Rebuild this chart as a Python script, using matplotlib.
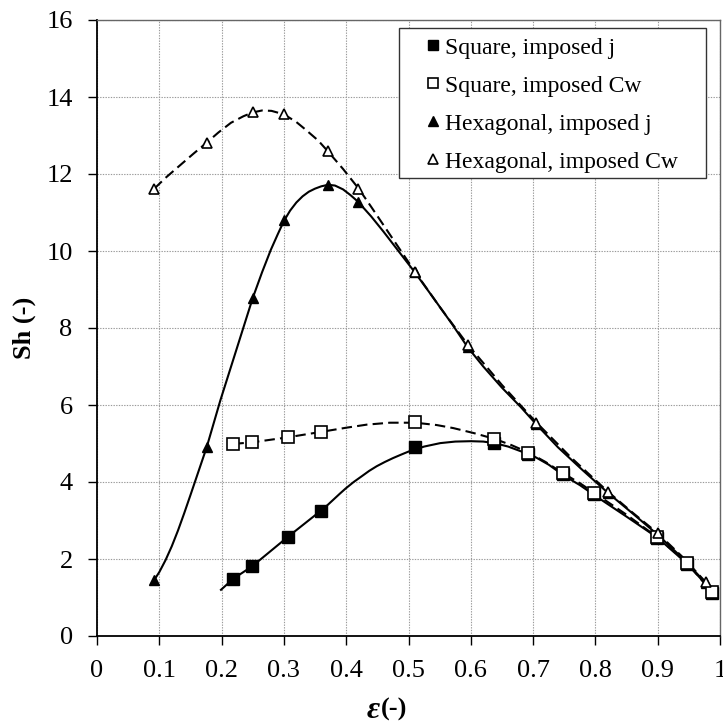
import matplotlib
matplotlib.use("Agg")
import matplotlib.pyplot as plt
from matplotlib.lines import Line2D
from matplotlib.patches import Rectangle

plt.rcParams.update({"font.family": "Liberation Serif", "font.size": 19})

# ---- measured points (markers) ----
hex_j_x = [0.092, 0.176, 0.250, 0.300, 0.371, 0.419, 0.51, 0.595, 0.705, 0.82, 0.90, 0.977]
hex_j_y = [1.46, 4.92, 8.78, 10.81, 11.72, 11.28, 9.45, 7.50, 5.50, 3.72, 2.65, 1.38]
hex_cw_x = [0.092, 0.176, 0.250, 0.300, 0.371, 0.419, 0.51, 0.595, 0.705, 0.82, 0.90, 0.977]
hex_cw_y = [11.62, 12.80, 13.60, 13.55, 12.60, 11.60, 9.45, 7.55, 5.53, 3.74, 2.67, 1.40]
sq_j_x = [0.219, 0.249, 0.306, 0.359, 0.511, 0.638, 0.692, 0.748, 0.798, 0.899, 0.947, 0.987]
sq_j_y = [1.49, 1.81, 2.57, 3.25, 4.92, 5.01, 4.72, 4.20, 3.70, 2.55, 1.88, 1.12]
sq_cw_x = [0.219, 0.249, 0.306, 0.359, 0.511, 0.638, 0.692, 0.748, 0.798, 0.899, 0.947, 0.987]
sq_cw_y = [4.99, 5.03, 5.16, 5.30, 5.56, 5.12, 4.75, 4.23, 3.72, 2.57, 1.90, 1.14]

# ---- trend curves ----
hex_j_cx = [0.092, 0.10, 0.11, 0.12, 0.13, 0.14, 0.15, 0.163, 0.176, 0.198, 0.225, 0.250,
            0.265, 0.279, 0.29, 0.30, 0.31, 0.32, 0.33, 0.34, 0.35, 0.36, 0.371, 0.382,
            0.395, 0.407, 0.419, 0.44, 0.46, 0.48, 0.51, 0.54, 0.57, 0.595, 0.62, 0.65,
            0.68, 0.705, 0.74, 0.78, 0.82, 0.86, 0.90, 0.94, 0.977]
hex_j_cy = [1.46, 1.66, 1.97, 2.33, 2.74, 3.19, 3.66, 4.28, 4.90, 6.12, 7.50, 8.78,
            9.45, 10.03, 10.43, 10.78, 11.05, 11.26, 11.42, 11.54, 11.62, 11.68, 11.72, 11.70,
            11.60, 11.45, 11.28, 10.90, 10.50, 10.08, 9.45, 8.78, 8.10, 7.50, 7.00, 6.45,
            5.95, 5.50, 4.90, 4.30, 3.72, 3.18, 2.63, 2.02, 1.38]
hex_cw_cx = [0.092, 0.11, 0.135, 0.155, 0.175, 0.195, 0.215, 0.235, 0.25, 0.265, 0.28, 0.30,
             0.32, 0.335, 0.355, 0.37, 0.395, 0.42, 0.44, 0.46, 0.485, 0.51, 0.55, 0.595,
             0.65, 0.705, 0.76, 0.82, 0.86, 0.90, 0.94, 0.977]
hex_cw_cy = [11.62, 11.90, 12.25, 12.53, 12.80, 13.08, 13.33, 13.50, 13.60, 13.65, 13.64, 13.55,
             13.35, 13.15, 12.87, 12.60, 12.13, 11.62, 11.15, 10.67, 10.07, 9.47, 8.55, 7.57,
             6.52, 5.55, 4.65, 3.75, 3.20, 2.67, 2.05, 1.40]
sq_j_cx = [0.199, 0.219, 0.249, 0.306, 0.359, 0.37, 0.38, 0.39, 0.399, 0.412, 0.425, 0.437,
           0.449, 0.462, 0.475, 0.488, 0.50, 0.525, 0.551, 0.575, 0.60, 0.62, 0.638, 0.66,
           0.68, 0.70, 0.725, 0.75, 0.775, 0.80, 0.85, 0.90, 0.947, 0.987]
sq_j_cy = [1.20, 1.49, 1.81, 2.57, 3.25, 3.40, 3.55, 3.70, 3.83, 4.00, 4.15, 4.29,
           4.41, 4.52, 4.62, 4.71, 4.79, 4.92, 5.01, 5.05, 5.06, 5.05, 5.01, 4.92,
           4.80, 4.68, 4.45, 4.16, 3.92, 3.64, 3.10, 2.55, 1.88, 1.17]
sq_cw_cx = [0.219, 0.249, 0.306, 0.359, 0.40, 0.433, 0.47, 0.511, 0.545, 0.572, 0.605, 0.638,
            0.665, 0.692, 0.72, 0.748, 0.775, 0.798, 0.85, 0.899, 0.947, 0.987]
sq_cw_cy = [4.99, 5.03, 5.16, 5.30, 5.41, 5.49, 5.54, 5.54, 5.48, 5.40, 5.27, 5.12,
            4.96, 4.77, 4.52, 4.23, 3.97, 3.72, 3.15, 2.57, 1.90, 1.14]

labels = ["Square, imposed j", "Square, imposed Cw", "Hexagonal, imposed j", "Hexagonal, imposed Cw"]
x_ticks = [0, 0.1, 0.2, 0.3, 0.4, 0.5, 0.6, 0.7, 0.8, 0.9, 1]
x_ticklabels = ["0", "0.1", "0.2", "0.3", "0.4", "0.5", "0.6", "0.7", "0.8", "0.9", "1"]
y_ticks = [0, 2, 4, 6, 8, 10, 12, 14, 16]

W, H = 723, 726
fig = plt.figure(figsize=(W / 100, H / 100), dpi=100)
ax = fig.add_axes([97 / W, 1 - 636 / H, 623 / W, 616 / H])

LW = 1.5
DASH = (5, 2.5)
ax.plot(hex_cw_cx, hex_cw_cy, color="black", lw=LW, ls="--", dashes=DASH, zorder=3)
ax.plot(hex_j_cx, hex_j_cy, color="black", lw=LW, zorder=3)
ax.plot(sq_cw_cx, sq_cw_cy, color="black", lw=LW, ls="--", dashes=DASH, zorder=3)
ax.plot(sq_j_cx, sq_j_cy, color="black", lw=LW, zorder=3)

ms_sq, ms_tri = 8, 7.5
ax.plot(sq_j_x, sq_j_y, ls="none", marker="s", ms=ms_sq, mfc="black", mec="black", zorder=4)
ax.plot(sq_cw_x, sq_cw_y, ls="none", marker="s", ms=ms_sq, mfc="white", mec="black", mew=1.2, zorder=5)
ax.plot(hex_j_x, hex_j_y, ls="none", marker="^", ms=ms_tri, mfc="black", mec="black", zorder=4)
ax.plot(hex_cw_x, hex_cw_y, ls="none", marker="^", ms=ms_tri, mfc="white", mec="black", mew=1.2, zorder=5)

ax.set_xlim(0, 1)
ax.set_ylim(0, 16)
ax.set_xticks(x_ticks)
ax.set_xticklabels(x_ticklabels)
ax.set_yticks(y_ticks)
ax.grid(True, ls=(0, (1.2, 1.2)), color="#9a9a9a", lw=0.8)
ax.set_axisbelow(True)
ax.tick_params(direction="out", length=6.5, width=1, pad=11, labelsize=19, colors="black")
for s in ("left", "bottom"):
    ax.spines[s].set_linewidth(1.3)
    ax.spines[s].set_color("black")
for s in ("top", "right"):
    ax.spines[s].set_linewidth(1.0)
    ax.spines[s].set_color("#666666")

fig.text(24 / W, 1 - 328 / H, "Sh (-)", rotation=90, ha="center", va="center",
         fontsize=19, weight="bold")
fig.text(380 / W, 1 - 710 / H, "ε", ha="right", va="center", fontsize=23,
         weight="bold", style="italic")
fig.text(381 / W, 1 - 709 / H, "(-)", ha="left", va="center", fontsize=19, weight="bold")

# legend: frame drawn by hand, markers only
fig.patches.append(Rectangle((399 / W, 1 - 178 / H), 307 / W, 150 / H, transform=fig.transFigure,
                             facecolor="white", edgecolor="#333333", lw=1.0, zorder=9))
handles = [
    Line2D([], [], ls="none", marker="s", ms=ms_sq, mfc="black", mec="black"),
    Line2D([], [], ls="none", marker="s", ms=ms_sq, mfc="white", mec="black", mew=1.2),
    Line2D([], [], ls="none", marker="^", ms=ms_tri, mfc="black", mec="black"),
    Line2D([], [], ls="none", marker="^", ms=ms_tri, mfc="white", mec="black", mew=1.2),
]
leg = fig.legend(handles, labels, loc="upper left", bbox_to_anchor=(424 / W, 1 - 37 / H),
                 borderaxespad=0, borderpad=0, fontsize=17, frameon=False,
                 handlelength=0.8, handletextpad=0.1, labelspacing=0.7, markerscale=0.95)
leg.set_zorder(10)

fig.savefig("out.png", dpi=100)
